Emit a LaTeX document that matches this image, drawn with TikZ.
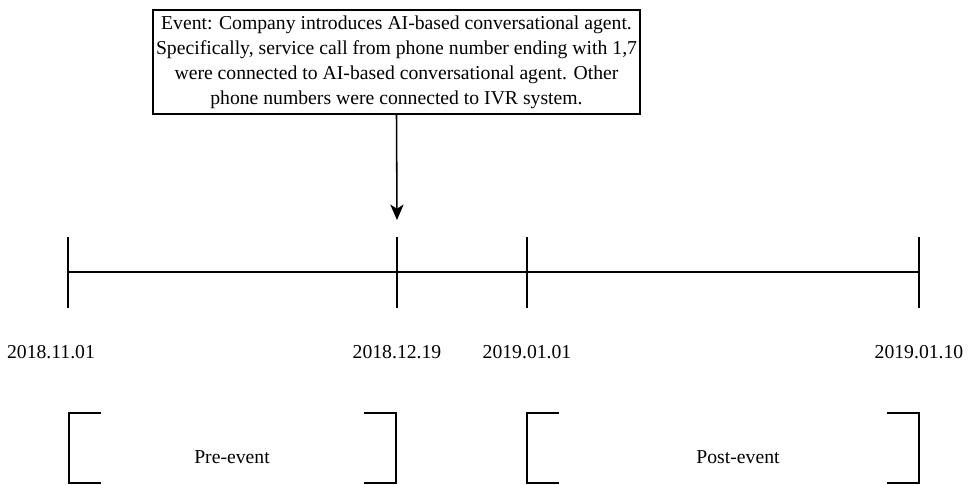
\documentclass[tikz,border=0pt]{standalone}
\usepackage{fontspec}
\setmainfont{Liberation Serif}
\usetikzlibrary{arrows.meta,positioning}

\begin{document}
\begin{tikzpicture}[x=0.025cm,y=-0.025cm,line width=1.1pt,
    every node/.style={font=\fontsize{14}{17.8}\selectfont}]
        \useasboundingbox (0,0) rectangle (968,485);
        % event box and arrow
        \node[draw,align=center,inner xsep=2pt,inner ysep=4pt] (event) at (396.5,62)
            {Event: Company introduces AI-based conversational agent.\\
             Specifically, service call from phone number ending with 1,7\\
             were connected to AI-based conversational agent. Other\\
             phone numbers were connected to IVR system.};
        \coordinate (hit) at (397,220);
        \draw[-{Stealth[length=11pt,width=9.5pt,inset=3pt]}] (event.south) -- (hit);
        % timeline
        \coordinate (t1) at (68,272);
        \coordinate (t2) at (397,272);
        \coordinate (t3) at (527,272);
        \coordinate (t4) at (919,272);
        \draw (t1) -- (t4);
        \foreach \t in {t1,t2,t3,t4}
            \draw (\t) ++(0,-35) -- ++(0,71);
        \node (d1) at (51,352) {2018.11.01};
        \node (d2) at (397,352) {2018.12.19};
        \node (d3) at (527,352) {2019.01.01};
        \node (d4) at (919,352) {2019.01.10};
        % periods
        \draw (101,413) -- (69,413) -- (69,483) -- (101,483);
        \draw (364,413) -- (396,413) -- (396,483) -- (364,483);
        \draw (559,413) -- (527,413) -- (527,483) -- (559,483);
        \draw (887,413) -- (919,413) -- (919,483) -- (887,483);
        \node (pre) at (232,457) {Pre-event};
        \node (post) at (738,457) {Post-event};
    \end{tikzpicture}
\end{document}
